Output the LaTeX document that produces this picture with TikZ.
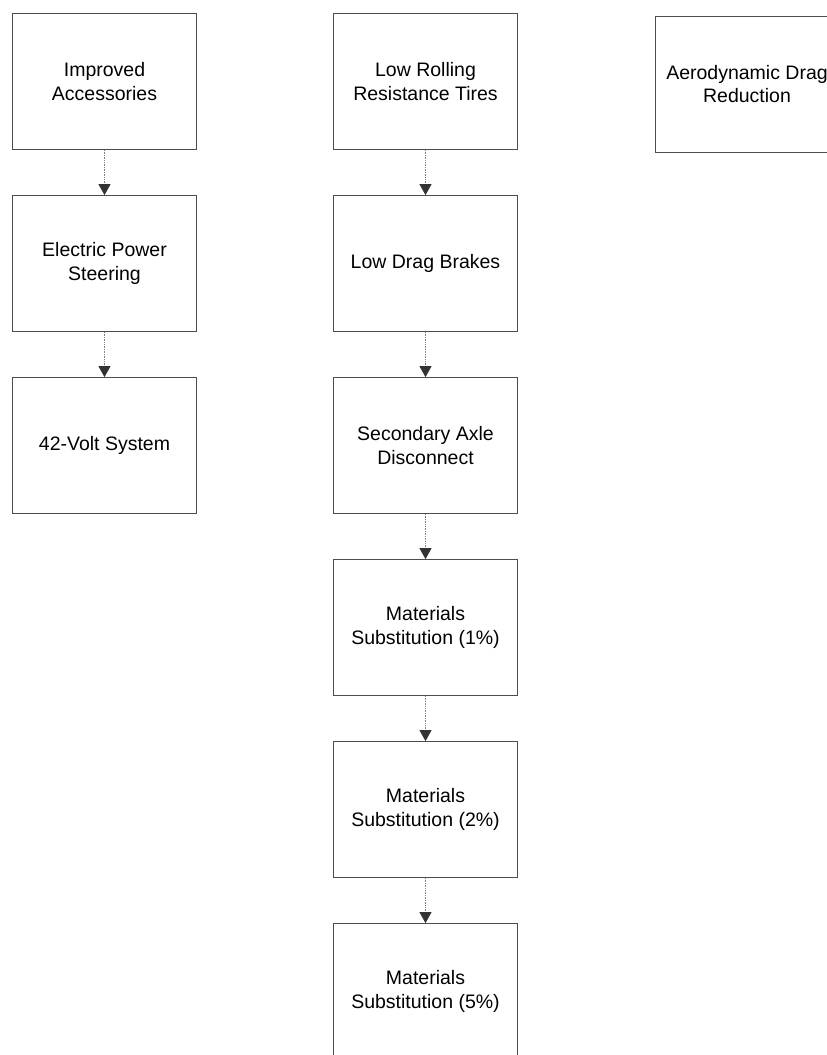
\documentclass[tikz,border=0pt]{standalone}
\usepackage{fontspec}
\setmainfont{Liberation Sans}
\usetikzlibrary{arrows.meta}
\begin{document}
\begin{tikzpicture}[x=1pt,y=-1pt,
  techbox/.style={draw=black!70, line width=0.8pt, rectangle, minimum width=184pt, minimum height=136pt, inner sep=0pt, align=center, font=\fontsize{19.5}{23.7}\selectfont},
  flow/.style={draw=black!50, line width=0.7pt, densely dotted, -{Triangle[width=12pt,length=11pt,fill=black!80,color=black!80,sep=0pt]}}]
\clip (0,0) rectangle (827,1055);
\fill[white] (0,0) rectangle (827,1055);
% left column
\node[techbox] (a1) at (104.5,81.5) {Improved\\Accessories};
\node[techbox] (a2) at (104.5,263.5) {Electric Power\\Steering};
\node[techbox] (a3) at (104.5,445.5) {42-Volt System};
% middle column
\node[techbox] (b1) at (425.5,81.5) {Low Rolling\\Resistance Tires};
\node[techbox] (b2) at (425.5,263.5) {Low Drag Brakes};
\node[techbox] (b3) at (425.5,445.5) {Secondary Axle\\Disconnect};
\node[techbox] (b4) at (425.5,627.5) {Materials\\Substitution (1\%)};
\node[techbox] (b5) at (425.5,809.5) {Materials\\Substitution (2\%)};
\node[techbox] (b6) at (425.5,991.5) {Materials\\Substitution (5\%)};
% right
\node[techbox] (c1) at (747,84) {Aerodynamic Drag\\Reduction};
% connectors
\draw[flow] (a1) -- (a2);
\draw[flow] (a2) -- (a3);
\draw[flow] (b1) -- (b2);
\draw[flow] (b2) -- (b3);
\draw[flow] (b3) -- (b4);
\draw[flow] (b4) -- (b5);
\draw[flow] (b5) -- (b6);
\end{tikzpicture}
\end{document}
